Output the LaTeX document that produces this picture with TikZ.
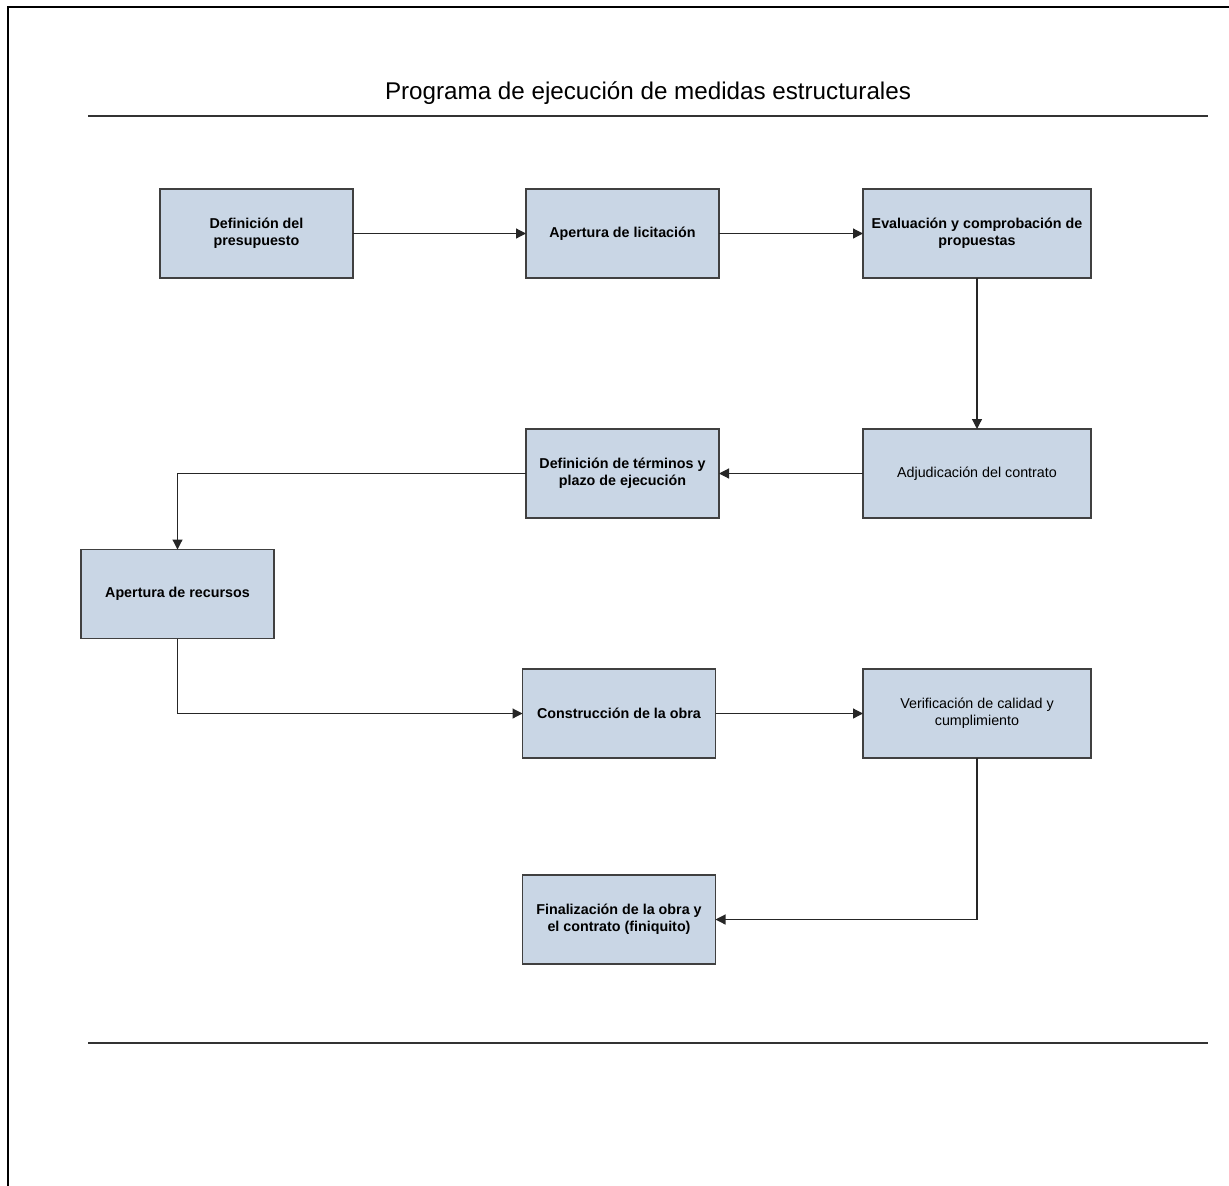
\documentclass[tikz,border=0pt]{standalone}
\usepackage{fontspec}
\setmainfont{Liberation Sans}
\usepackage{tikz}
\usetikzlibrary{positioning,arrows.meta}

\definecolor{boxfill}{RGB}{201,214,229}
\definecolor{boxline}{RGB}{64,64,64}

\begin{document}
\begin{tikzpicture}[x=1pt, y=-1pt,
  stepbox/.style={draw=boxline, line width=1.2pt, fill=boxfill, minimum width=193pt, minimum height=89pt, align=center, font=\fontsize{14.3}{17}\selectfont\bfseries, inner sep=0pt, outer sep=0pt},
  widebox/.style={stepbox, minimum width=228pt},
  plain/.style={font=\fontsize{14.3}{17}\selectfont},
  >={Triangle[length=10pt, width=10pt]},
  flow/.style={->, line width=1.2pt, draw=black!85}]
\useasboundingbox (0,0) rectangle (1229,1186);

% frame and rules
\draw [line width=2.4pt] (1229,7) -- (8,7) -- (8,1186);
\draw [line width=1.4pt, draw=black!80] (88,116) -- (1208,116);
\draw [line width=1.4pt, draw=black!80] (88,1043) -- (1208,1043);
\node (title) at (648,93) [font=\fontsize{24.2}{28}\selectfont] {Programa de ejecución de medidas estructurales};

% first row
\node (budget) at (256.5,233.5) [stepbox] {Definición del\\presupuesto};
\node (tender) at (budget.east) [stepbox, right=173pt] {Apertura de licitación};
\node (review) at (tender.east) [widebox, right=144pt] {Evaluación y comprobación de\\propuestas};

% second row
\node (award) at (review.south) [widebox, plain, below=151pt] {Adjudicación del contrato};
\node (terms) at (622.5,473.5) [stepbox] {Definición de términos y\\plazo de ejecución};
\node (funds) at (177.5,594) [stepbox] {Apertura de recursos};

% third row
\node (build) at (619,713.5) [stepbox] {Construcción de la obra};
\node (check) at (award.south) [widebox, plain, below=151pt] {Verificación de calidad y\\cumplimiento};
\node (close) at (619,919.5) [stepbox] {Finalización de la obra y\\el contrato (finiquito)};

\draw [flow] (budget) -- (tender);
\draw [flow] (tender) -- (review);
\draw [flow] (review) -- (award);
\draw [flow] (award) -- (terms);
\draw [flow] (terms.west) -| (funds.north);
\draw [flow] (funds.south) |- (build.west);
\draw [flow] (build) -- (check);
\draw [flow] (check.south) |- (close.east);

\end{tikzpicture}
\end{document}
